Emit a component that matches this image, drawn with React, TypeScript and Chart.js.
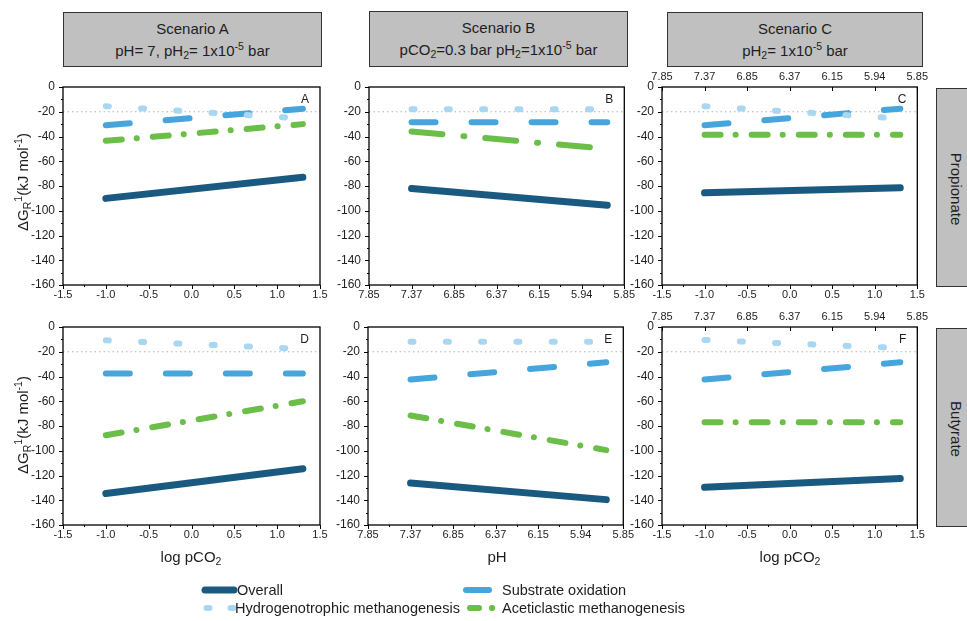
import React, { useEffect, useRef } from "react";
import { Chart, registerables } from "chart.js";

Chart.register(...registerables);

// ---------- data ----------
const X_POINTS = [-1.0, 1.3];
const LOG_TICKS = [-1.5, -1.0, -0.5, 0.0, 0.5, 1.0, 1.5];
const PH_TICK_LABELS = ["7.85", "7.37", "6.85", "6.37", "6.15", "5.94", "5.85"];
const Y_TICKS = [0, -20, -40, -60, -80, -100, -120, -140, -160];
const REF_X = [-1.5, 1.5];
const REF_Y = [-20, -20];

// Propionate
const overallA = [-90, -73];
const substrateA = [-31, -17.5];
const hydroA = [-15.5, -25.5];
const aceticA = [-43.5, -30];

const overallB = [-82, -95.5];
const substrateB = [-28.5, -28.5];
const hydroB = [-18, -18];
const aceticB = [-36, -50];

const overallC = [-85.5, -81.5];
const substrateC = [-31, -17.5];
const hydroC = [-15.5, -25.5];
const aceticC = [-38.5, -38.5];

// Butyrate
const overallD = [-134.5, -114.5];
const substrateD = [-37.5, -37.5];
const hydroD = [-10.8, -17.7];
const aceticD = [-87.5, -60];

const overallE = [-126, -139.5];
const substrateE = [-42.5, -28.5];
const hydroE = [-12, -12];
const aceticE = [-71.5, -99.5];

const overallF = [-129.5, -122.5];
const substrateF = [-42.5, -28.5];
const hydroF = [-10.5, -17];
const aceticF = [-77, -77];

const SERIES_NAMES = [
  "Overall",
  "Substrate oxidation",
  "Hydrogenotrophic methanogenesis",
  "Aceticlastic methanogenesis",
];

// ---------- styles ----------
const FONT = "'Liberation Sans', Arial, Helvetica, sans-serif";
const C_OVERALL = "#1a5a80";
const C_SUB = "#46a5dd";
const C_HYDRO = "#a9d6f1";
const C_ACET = "#6bbe47";
const TXT = "#1e1e1e";
const BOX_BG = "#c0c0c0";

const PLOT_W = 257;
const PLOT_H = 198;
const PADL = 58;
const PADR = 12;
const PADT = 24;
const PADB = 24;
const AXIS_H = 18;

type PanelCfg = {
  letter: string;
  left: number;
  top: number;
  bottom: "log" | "ph";
  topPh: boolean;
  overall: number[];
  substrate: number[];
  hydro: number[];
  acetic: number[];
  aceticDash: number[];
};

const PANELS: PanelCfg[] = [
  { letter: "A", left: 63, top: 87, bottom: "log", topPh: false, overall: overallA, substrate: substrateA, hydro: hydroA, acetic: aceticA, aceticDash: [16, 15, 0.1, 16] },
  { letter: "B", left: 369, top: 87, bottom: "ph", topPh: false, overall: overallB, substrate: substrateB, hydro: hydroB, acetic: aceticB, aceticDash: [31, 21, 1, 21] },
  { letter: "C", left: 662, top: 87, bottom: "log", topPh: true, overall: overallC, substrate: substrateC, hydro: hydroC, acetic: aceticC, aceticDash: [16, 15, 0.1, 16] },
  { letter: "D", left: 63, top: 327, bottom: "log", topPh: false, overall: overallD, substrate: substrateD, hydro: hydroD, acetic: aceticD, aceticDash: [16, 15, 0.1, 16] },
  { letter: "E", left: 368, top: 327, bottom: "ph", topPh: false, overall: overallE, substrate: substrateE, hydro: hydroE, acetic: aceticE, aceticDash: [16, 15, 0.1, 16] },
  { letter: "F", left: 662, top: 327, bottom: "log", topPh: true, overall: overallF, substrate: substrateF, hydro: hydroF, acetic: aceticF, aceticDash: [16, 15, 0.1, 16] },
];

const toPts = (xs: number[], ys: number[]) => xs.map((x, i) => ({ x, y: ys[i] }));

const decorPlugin = {
  id: "decor",
  afterDraw(chart: any, _args: any, opts: any) {
    const { ctx, chartArea: a, scales } = chart;
    ctx.save();
    ctx.strokeStyle = "#000";
    ctx.lineWidth = 1.3;
    ctx.strokeRect(a.left, a.top, a.right - a.left, a.bottom - a.top);
    ctx.lineWidth = 1;
    const y = scales.y;
    for (let v = 0; v >= -160; v -= 10) {
      const py = Math.round(y.getPixelForValue(v)) + 0.5;
      const len = v % 20 === 0 ? 4 : 2;
      ctx.beginPath();
      ctx.moveTo(a.left - len, py);
      ctx.lineTo(a.left, py);
      ctx.stroke();
    }
    const x = scales.x;
    for (let i = 0; i <= 12; i++) {
      const v = -1.5 + i * 0.25;
      const px = Math.round(x.getPixelForValue(v)) + 0.5;
      const len = i % 2 === 0 ? 4 : 2;
      ctx.beginPath();
      ctx.moveTo(px, a.bottom);
      ctx.lineTo(px, a.bottom + len);
      ctx.stroke();
      if (opts.topPh && i % 2 === 0) {
        ctx.beginPath();
        ctx.moveTo(px, a.top);
        ctx.lineTo(px, a.top + 4);
        ctx.stroke();
      }
    }
    ctx.fillStyle = TXT;
    ctx.font = `12px ${FONT}`;
    ctx.textAlign = "right";
    ctx.textBaseline = "middle";
    ctx.fillText(opts.letter, a.right - 11, a.top + 13);
    ctx.restore();
  },
};

function Panel({ cfg }: { cfg: PanelCfg }) {
  const ref = useRef<HTMLCanvasElement>(null);
  const W = PLOT_W + PADL + PADR;
  const H = PLOT_H + PADT + PADB;
  useEffect(() => {
    if (!ref.current) return;
    const lineDs = (label: string, ys: number[], color: string, width: number, dash: number[], order: number) => ({
      label,
      data: toPts(X_POINTS, ys),
      borderColor: color,
      backgroundColor: color,
      borderWidth: width,
      borderDash: dash,
      borderCapStyle: "round" as const,
      borderJoinStyle: "round" as const,
      pointRadius: 0,
      pointHoverRadius: 0,
      tension: 0,
      fill: false,
      order,
    });
    const tickFont = { family: FONT, size: 11 };
    const scales: any = {
      x: {
        type: "linear",
        position: "bottom",
        min: -1.5,
        max: 1.5,
        grid: { display: false, drawTicks: false },
        border: { display: false },
        afterBuildTicks: (s: any) => {
          s.ticks = LOG_TICKS.map((v) => ({ value: v }));
        },
        afterFit: (s: any) => {
          s.height = AXIS_H;
        },
        ticks: {
          autoSkip: false,
          maxRotation: 0,
          padding: 3,
          color: TXT,
          font: tickFont,
          callback: (v: number, i: number) => (cfg.bottom === "ph" ? PH_TICK_LABELS[i] : Number(v).toFixed(1)),
        },
      },
      y: {
        type: "linear",
        position: "left",
        min: -160,
        max: 0,
        grid: { display: false, drawTicks: false },
        border: { display: false },
        afterBuildTicks: (s: any) => {
          s.ticks = Y_TICKS.map((v) => ({ value: v }));
        },
        afterFit: (s: any) => {
          s.width = PADL;
        },
        ticks: {
          autoSkip: false,
          padding: 8,
          color: TXT,
          font: { family: FONT, size: 12 },
          callback: (v: number) => String(v),
        },
      },
    };
    if (cfg.topPh) {
      scales.x2 = {
        type: "linear",
        position: "top",
        min: -1.5,
        max: 1.5,
        grid: { display: false, drawTicks: false },
        border: { display: false },
        afterBuildTicks: (s: any) => {
          s.ticks = LOG_TICKS.map((v) => ({ value: v }));
        },
        afterFit: (s: any) => {
          s.height = AXIS_H;
        },
        ticks: {
          autoSkip: false,
          maxRotation: 0,
          padding: 3,
          color: TXT,
          font: tickFont,
          callback: (_v: number, i: number) => PH_TICK_LABELS[i],
        },
      };
    }
    const chart = new Chart(ref.current, {
      type: "line",
      data: {
        datasets: [
          {
            label: "ref",
            data: toPts(REF_X, REF_Y),
            borderColor: "#b4b4b4",
            borderWidth: 1,
            borderDash: [1.5, 3],
            pointRadius: 0,
            fill: false,
            order: 10,
          } as any,
          lineDs(SERIES_NAMES[3], cfg.acetic, C_ACET, 6, cfg.aceticDash, 4),
          lineDs(SERIES_NAMES[1], cfg.substrate, C_SUB, 6, [24, 36], 3),
          lineDs(SERIES_NAMES[0], cfg.overall, C_OVERALL, 7, [], 2),
          lineDs(SERIES_NAMES[2], cfg.hydro, C_HYDRO, 6, [3, 32.3], 1),
        ],
      },
      options: {
        animation: false,
        responsive: false,
        devicePixelRatio: 1,
        layout: {
          autoPadding: false,
          padding: {
            left: 0,
            right: PADR,
            top: cfg.topPh ? PADT - AXIS_H : PADT,
            bottom: PADB - AXIS_H,
          },
        },
        plugins: {
          legend: { display: false },
          tooltip: { enabled: false },
          title: { display: false },
          decor: { letter: cfg.letter, topPh: cfg.topPh },
        } as any,
        scales,
      },
      plugins: [decorPlugin],
    });
    return () => chart.destroy();
  }, []);
  return (
    <canvas
      ref={ref}
      width={W}
      height={H}
      style={{ position: "absolute", left: cfg.left - PADL, top: cfg.top - PADT, width: W, height: H }}
    />
  );
}

const subStyle: React.CSSProperties = { fontSize: "0.7em", verticalAlign: "-0.3em", lineHeight: 0 };
const supStyle: React.CSSProperties = { fontSize: "0.7em", verticalAlign: "0.55em", lineHeight: 0 };

function Header({ left, top, width, height, line1, line2 }: any) {
  return (
    <div
      style={{
        position: "absolute",
        left,
        top,
        width,
        height,
        boxSizing: "border-box",
        background: BOX_BG,
        border: "1.5px solid #333",
        display: "flex",
        flexDirection: "column",
        justifyContent: "center",
        alignItems: "center",
        fontFamily: FONT,
        fontSize: 15,
        color: TXT,
        lineHeight: "22px",
      }}
    >
      <div>{line1}</div>
      <div>{line2}</div>
    </div>
  );
}

function SideBox({ top, height, label }: any) {
  return (
    <div
      style={{
        position: "absolute",
        left: 936,
        top,
        width: 45,
        height,
        boxSizing: "border-box",
        background: BOX_BG,
        border: "1.5px solid #333",
      }}
    >
      <div
        style={{
          position: "absolute",
          left: 19,
          top: height / 2,
          transform: "translate(-50%, -50%) rotate(90deg)",
          whiteSpace: "nowrap",
          fontFamily: FONT,
          fontSize: 15,
          color: TXT,
        }}
      >
        {label}
      </div>
    </div>
  );
}

function YTitle({ cy }: { cy: number }) {
  return (
    <div
      style={{
        position: "absolute",
        left: 22,
        top: cy,
        transform: "translate(-50%, -50%) rotate(-90deg)",
        whiteSpace: "nowrap",
        fontFamily: FONT,
        fontSize: 15,
        color: TXT,
      }}
    >
      ΔG<span style={subStyle}>R</span>
      <span style={supStyle}>1</span>(kJ mol<span style={supStyle}>-1</span>)
    </div>
  );
}

function XTitle({ cx, children }: any) {
  return (
    <div
      style={{
        position: "absolute",
        left: cx,
        top: 556,
        transform: "translate(-50%, -50%)",
        whiteSpace: "nowrap",
        fontFamily: FONT,
        fontSize: 15,
        color: TXT,
      }}
    >
      {children}
    </div>
  );
}

function Legend() {
  const r1 = 590;
  const r2 = 608;
  const txt = (left: number, cy: number, s: string) => (
    <div
      style={{
        position: "absolute",
        left,
        top: cy,
        transform: "translateY(-50%)",
        whiteSpace: "nowrap",
        fontFamily: FONT,
        fontSize: 14.5,
        color: TXT,
      }}
    >
      {s}
    </div>
  );
  return (
    <>
      <svg style={{ position: "absolute", left: 0, top: 0 }} width={967} height={621}>
        <g strokeLinecap="round" strokeWidth={6} fill="none">
          <line x1={205} y1={r1} x2={234} y2={r1} stroke={C_OVERALL} strokeWidth={7} />
          <line x1={466} y1={r1} x2={489} y2={r1} stroke={C_SUB} />
          <line x1={206.5} y1={r2} x2={209.5} y2={r2} stroke={C_HYDRO} />
          <line x1={230.5} y1={r2} x2={233.5} y2={r2} stroke={C_HYDRO} />
          <line x1={470} y1={r2} x2={479} y2={r2} stroke={C_ACET} />
          <line x1={492} y1={r2} x2={492.2} y2={r2} stroke={C_ACET} />
        </g>
      </svg>
      {txt(237, r1, SERIES_NAMES[0])}
      {txt(502, r1, SERIES_NAMES[1])}
      {txt(235, r2, SERIES_NAMES[2])}
      {txt(502, r2, SERIES_NAMES[3])}
    </>
  );
}

export default function App() {
  return (
    <div
      style={{
        position: "absolute",
        left: 0,
        top: 0,
        width: 967,
        height: 621,
        overflow: "hidden",
        background: "#fff",
      }}
    >
      <Header
        left={63}
        top={12}
        width={259}
        height={55}
        line1="Scenario A"
        line2={
          <>
            pH= 7, pH<span style={subStyle}>2</span>= 1x10<span style={supStyle}>-5</span> bar
          </>
        }
      />
      <Header
        left={369}
        top={11}
        width={259}
        height={56}
        line1="Scenario B"
        line2={
          <>
            pCO<span style={subStyle}>2</span>=0.3 bar pH<span style={subStyle}>2</span>=1x10
            <span style={supStyle}>-5</span> bar
          </>
        }
      />
      <Header
        left={667}
        top={12}
        width={256}
        height={55}
        line1="Scenario C"
        line2={
          <>
            pH<span style={subStyle}>2</span>= 1x10<span style={supStyle}>-5</span> bar
          </>
        }
      />
      <SideBox top={88} height={199} label="Propionate" />
      <SideBox top={328} height={199} label="Butyrate" />
      {PANELS.map((p) => (
        <Panel key={p.letter} cfg={p} />
      ))}
      <YTitle cy={182} />
      <YTitle cy={425} />
      <XTitle cx={191}>
        log pCO<span style={subStyle}>2</span>
      </XTitle>
      <XTitle cx={497}>pH</XTitle>
      <XTitle cx={790}>
        log pCO<span style={subStyle}>2</span>
      </XTitle>
      <Legend />
    </div>
  );
}
